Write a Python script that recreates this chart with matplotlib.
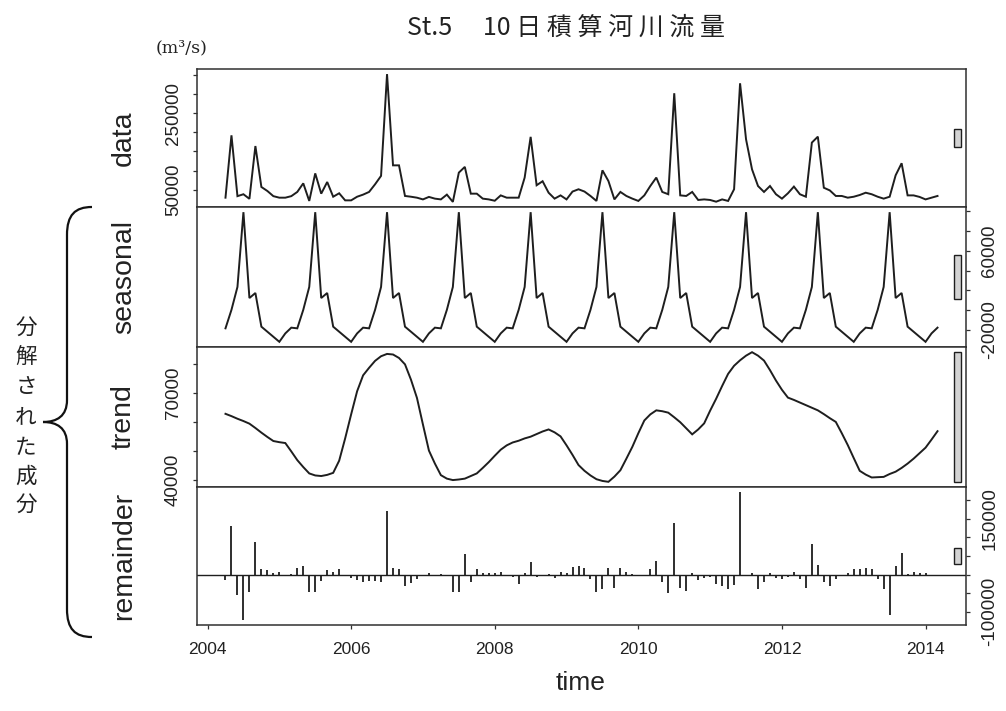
import numpy as np
import matplotlib
matplotlib.use("Agg")
import matplotlib.pyplot as plt
from matplotlib.path import Path
from matplotlib.patches import PathPatch, Rectangle

# ---- series (monthly, April 2004 - March 2014) ----
start_year = 2004
start_month = 4
n_months = 120

data_vals = [
    29000, 192000, 33000, 38000, 26000, 164000, 57000, 46500, 33000, 29000, 29000, 33000,
    44000, 66500, 20500, 92500, 39500, 70000, 31500, 40500, 22000, 22000, 31500, 37000,
    44000, 64000, 86000, 352000, 113500, 113500, 33500, 31500, 29000, 24500, 31000, 26500,
    24500, 37000, 18000, 94500, 109500, 39500, 39500, 26500, 24500, 21000, 35000, 29000,
    29000, 29000, 81500, 188000, 61500, 72000, 42000, 26500, 35000, 24500, 45000, 51000,
    45000, 33500, 20500, 100500, 72500, 24500, 44000, 33500, 26500, 20500, 35000, 59500,
    81500, 44000, 38000, 302000, 35000, 33500, 44000, 23000, 24500, 23000, 18500, 24500,
    20500, 51000, 328000, 181500, 103000, 59500, 44000, 59500, 38000, 26500, 40500, 58000,
    38000, 31500, 173000, 188500, 55000, 48000, 33500, 33500, 29000, 31500, 36000, 42000,
    38000, 31500, 26500, 31500, 87500, 119000, 35000, 35000, 31000, 24500, 29000, 33500,
]

# one seasonal cycle, April .. March
seasonal_cycle = [-18300, 400, 23500, 99000, 12300, 17400,
                  -16600, -21700, -26800, -31900, -23400, -17600]

trend_vals = [
    62700, 61900, 61000, 60200, 59300, 57800, 56200, 54700, 53300, 52900, 52600, 49700,
    46700, 44300, 42100, 41400, 41200, 41600, 42300, 46500, 54200, 62500, 70500, 76000,
    78600, 81000, 82600, 83400, 83200, 82000, 79800, 74500, 68200, 59000, 50000, 45500,
    41500, 40300, 39800, 40000, 40300, 41200, 42100, 44000, 46000, 48200, 50300, 51800,
    52800, 53400, 54200, 54800, 55700, 56600, 57300, 56300, 54900, 51800, 48500, 45000,
    43000, 41400, 40100, 39500, 39200, 41000, 43200, 47200, 51300, 56000, 60400, 62500,
    63900, 63600, 63100, 61500, 59800, 57700, 55600, 57300, 59400, 63800, 67900, 72300,
    76500, 79300, 81200, 82800, 84000, 82800, 81100, 77800, 74200, 71000, 68300, 67500,
    66600, 65700, 64800, 63900, 62600, 61200, 59900, 56000, 51900, 47400, 43000, 41700,
    40700, 40800, 40900, 41900, 42700, 44000, 45500, 47200, 49100, 51000, 53800, 56700,
]

remainder_vals = [
    -15000, 130000, -55000, -122000, -47000, 87000, 16000, 12000, 5000, 7000, 0, 1500,
    18000, 22000, -46000, -48000, -16000, 13000, 6000, 16000, -5000, -8000, -15000, -21000,
    -17000, -18000, -20000, 171000, 17000, 14000, -31000, -22000, -13000, -2500, 4000, -1500,
    1500, -4000, -46000, -47000, 55000, -19000, 14000, 4000, 5000, 5000, 8000, -5000,
    -5500, -25000, 3500, 35000, -7000, -2000, 1500, -8000, 7000, 5000, 20000, 23000,
    19000, -11000, -47000, -38000, 17000, -36000, 17000, 7000, 2000, -3500, -2000, 15000,
    36000, -20000, -50000, 139000, -37000, -45000, 4500, -14000, -8500, -7500, -26000, -31000,
    -37500, -27000, 222000, -3000, 5000, -40000, -20000, 3000, -8500, -13000, -7000, 7500,
    -12000, -36000, 82000, 26500, -19500, -31000, -11000, -1000, 3500, 14500, 16000, 17000,
    14500, -11000, -40000, -110000, 24000, 57000, 2000, 6000, 5000, 3000, -1500, -5000,
]

panel_names = ["data", "seasonal", "trend", "remainder"]
y_tick_values = [
    [50000, 100000, 150000, 200000, 250000, 300000, 350000],
    [-20000, 0, 20000, 40000, 60000, 80000, 100000],
    [40000, 50000, 60000, 70000, 80000],
    [-100000, -50000, 0, 50000, 100000, 150000, 200000],
]
y_tick_labels = [
    ["50000", "", "", "", "250000", "", ""],
    ["-20000", "", "", "", "60000", "", ""],
    ["40000", "", "", "70000", ""],
    ["-100000", "", "", "", "", "150000", ""],
]
x_ticks = [2004, 2006, 2008, 2010, 2012, 2014]

title_text = "St.5\u3000 10 日 積 算 河 川 流 量"
unit_text = "(m\u00b3/s)"
brace_text = "分解された成分"

# ---- derived series ----
time = start_year + (start_month - 1) / 12 + np.arange(n_months) / 12
seasonal_vals = np.tile(seasonal_cycle, n_months // 12)
series = [np.array(data_vals, float), seasonal_vals.astype(float),
          np.array(trend_vals, float), np.array(remainder_vals, float)]

# ---- figure ----
W, H = 1006, 711
fig = plt.figure(figsize=(W / 100, H / 100), dpi=100)
plt.rcParams["font.family"] = ["Liberation Sans", "DejaVu Sans"]
cjk = ["Noto Sans CJK JP", "DejaVu Sans"]

def fx(px):
    return px / W

def fy(py):
    return 1 - py / H

left_px, right_px = 197, 966
edges_px = [69, 207, 347, 487, 625]
line_col = "#1e1e1e"
frame_col = "#303030"
text_col = "#222222"

t0, t1 = time.min(), time.max()
xpad = 0.04 * (t1 - t0)
xlim = (t0 - xpad, t1 + xpad)

ranges = [(s.min(), s.max()) for s in series]
bar_h = min(hi - lo for lo, hi in ranges)
dx = (xlim[1] - xlim[0]) / 64

axes = []
for k in range(4):
    top, bot = edges_px[k], edges_px[k + 1]
    ax = fig.add_axes([fx(left_px), fy(bot), fx(right_px - left_px), (bot - top) / H])
    axes.append(ax)
    s = series[k]
    lo, hi = ranges[k]
    ypad = 0.04 * (hi - lo)
    if k < 3:
        ax.plot(time, s, color=line_col, lw=1.4, solid_joinstyle="miter")
    else:
        ax.vlines(time, 0, s, color=line_col, lw=1.3)
        ax.axhline(0, color=line_col, lw=1.0)
    ax.set_xlim(*xlim)
    ax.set_ylim(lo - ypad, hi + ypad)

    # relative-scale bar at the right edge
    mid = 0.5 * (lo + hi)
    ax.add_patch(Rectangle((xlim[1] - dx, mid - bar_h / 2), 0.6 * dx, bar_h,
                           facecolor="#d3d3d3", edgecolor=line_col, lw=1.0, zorder=3))

    for sp in ax.spines.values():
        sp.set_color(frame_col)
        sp.set_linewidth(1.1)

    ax.set_yticks(y_tick_values[k])
    if k in (1, 3):
        ax.yaxis.tick_right()
    ax.set_yticklabels(y_tick_labels[k], rotation=90, va="center", fontsize=13.5,
                       color=text_col)
    ax.tick_params(axis="y", direction="out", length=3, width=0.9, pad=8, colors=frame_col,
                   labelcolor=text_col)
    ax.set_xticks(x_ticks)
    ax.tick_params(axis="x", direction="out", length=3, width=0.9, colors=frame_col,
                   labelcolor=text_col, pad=9, labelsize=12.5)
    if k < 3:
        ax.set_xticklabels([])
    else:
        ax.set_xticklabels([str(v) for v in x_ticks])

    fig.text(fx(124), fy(0.5 * (top + bot)), panel_names[k], rotation=90,
             ha="center", va="center", fontsize=20.5, color=text_col)

fig.text(fx(581), fy(683), "time", ha="center", va="center", fontsize=19, color=text_col)

# title and unit
fig.text(fx(566), fy(28), title_text, ha="center", va="center", fontsize=18,
         family=cjk, color=text_col)
fig.text(fx(156), fy(48), unit_text, ha="left", va="center", fontsize=12.5,
         family=["DejaVu Serif"], color=text_col)

# curly brace grouping the decomposed components
bx_end, bx_mid, bx_tip = 92, 67, 43
by_top, by_mid, by_bot = 207, 422, 637
verts_px = [
    (bx_end, by_top),
    (bx_mid + 8, by_top), (bx_mid, by_top + 8), (bx_mid, by_top + 28),
    (bx_mid, by_mid - 22),
    (bx_mid, by_mid - 6), (bx_mid - 10, by_mid), (bx_tip, by_mid),
    (bx_mid - 10, by_mid), (bx_mid, by_mid + 6), (bx_mid, by_mid + 22),
    (bx_mid, by_bot - 28),
    (bx_mid, by_bot - 8), (bx_mid + 8, by_bot), (bx_end, by_bot),
]
codes = [Path.MOVETO,
         Path.CURVE4, Path.CURVE4, Path.CURVE4,
         Path.LINETO,
         Path.CURVE4, Path.CURVE4, Path.CURVE4,
         Path.CURVE4, Path.CURVE4, Path.CURVE4,
         Path.LINETO,
         Path.CURVE4, Path.CURVE4, Path.CURVE4]
verts = [(fx(x), fy(y)) for x, y in verts_px]
fig.add_artist(PathPatch(Path(verts, codes), facecolor="none", edgecolor="#111111",
                         lw=1.6, transform=fig.transFigure))

char_y = [328, 357, 387, 417, 448, 477, 505]
for ch, y in zip(brace_text, char_y):
    fig.text(fx(26), fy(y), ch, ha="center", va="center", fontsize=15.5,
             family=cjk, color=text_col)

fig.savefig("out.png", dpi=100, facecolor="white")
